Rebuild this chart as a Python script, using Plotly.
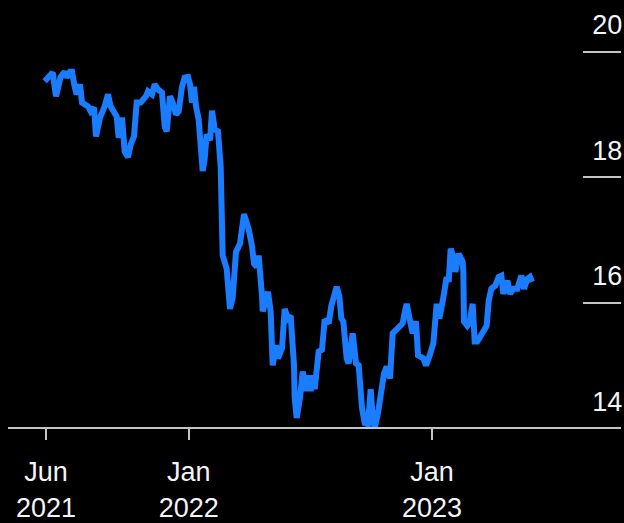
import plotly.graph_objects as go

dates = [
    "2021-05-30", "2021-06-04", "2021-06-11", "2021-06-16", "2021-06-20", "2021-06-23",
    "2021-06-29", "2021-07-02", "2021-07-07", "2021-07-10", "2021-07-14", "2021-07-17",
    "2021-07-22", "2021-07-25", "2021-07-29", "2021-08-03", "2021-08-07", "2021-08-12",
    "2021-08-15", "2021-08-21", "2021-08-28", "2021-09-02", "2021-09-06", "2021-09-11",
    "2021-09-15", "2021-09-18", "2021-09-23", "2021-09-27", "2021-10-02", "2021-10-06",
    "2021-10-11", "2021-10-15", "2021-10-21", "2021-10-29", "2021-11-01", "2021-11-07",
    "2021-11-11", "2021-11-16", "2021-11-22", "2021-11-26", "2021-11-29", "2021-12-04",
    "2021-12-08", "2021-12-13", "2021-12-17", "2021-12-22", "2021-12-26", "2021-12-31",
    "2022-01-03", "2022-01-06", "2022-01-09", "2022-01-12", "2022-01-16", "2022-01-22",
    "2022-01-25", "2022-01-28", "2022-02-02", "2022-02-05", "2022-02-09", "2022-02-14",
    "2022-02-18", "2022-02-21", "2022-02-26", "2022-02-27", "2022-03-04", "2022-03-08",
    "2022-03-13", "2022-03-19", "2022-03-25", "2022-03-29", "2022-04-01", "2022-04-06",
    "2022-04-09", "2022-04-13", "2022-04-16", "2022-04-21", "2022-04-22", "2022-04-27",
    "2022-04-30", "2022-05-04", "2022-05-07", "2022-05-12", "2022-05-15", "2022-05-21",
    "2022-05-25", "2022-05-30", "2022-06-03", "2022-06-08", "2022-06-09", "2022-06-12",
    "2022-06-17", "2022-06-21", "2022-06-26", "2022-06-30", "2022-07-03", "2022-07-06",
    "2022-07-09", "2022-07-15", "2022-07-20", "2022-07-24", "2022-07-30", "2022-08-03",
    "2022-08-11", "2022-08-15", "2022-08-18", "2022-08-21", "2022-08-26", "2022-08-29",
    "2022-09-04", "2022-09-09", "2022-09-13", "2022-09-18", "2022-09-22", "2022-09-27",
    "2022-10-01", "2022-10-04", "2022-10-07", "2022-10-12", "2022-10-18", "2022-10-21",
    "2022-10-25", "2022-10-30", "2022-11-03", "2022-11-11", "2022-11-18", "2022-11-21",
    "2022-11-24", "2022-11-29", "2022-12-03", "2022-12-08", "2022-12-11", "2022-12-19",
    "2022-12-23", "2022-12-28", "2023-01-03", "2023-01-08", "2023-01-12", "2023-01-17",
    "2023-01-20", "2023-01-23", "2023-01-26", "2023-01-29", "2023-02-02", "2023-02-05",
    "2023-02-10", "2023-02-16", "2023-02-17", "2023-02-18", "2023-02-23", "2023-02-26",
    "2023-03-03", "2023-03-06", "2023-03-10", "2023-03-15", "2023-03-19", "2023-03-24",
    "2023-03-27", "2023-03-31", "2023-04-06", "2023-04-11", "2023-04-15", "2023-04-18",
    "2023-04-24", "2023-04-28", "2023-05-03", "2023-05-09", "2023-05-15", "2023-05-19",
    "2023-05-24", "2023-05-28", "2023-05-31",
]

values = [
    19.53, 19.59, 19.67, 19.29, 19.51, 19.60,
    19.68, 19.59, 19.68, 19.68, 19.44, 19.32,
    19.48, 19.19, 19.16, 19.13, 19.05, 19.11,
    18.65, 18.95, 19.13, 19.32, 19.13, 19.03,
    18.97, 18.63, 18.95, 18.41, 18.32, 18.52,
    18.65, 19.19, 19.19, 19.29, 19.37, 19.32,
    19.48, 19.40, 19.35, 18.81, 18.73, 19.29,
    19.19, 19.00, 19.05, 19.44, 19.59, 19.60,
    19.48, 19.19, 19.44, 19.13, 18.92, 18.10,
    18.29, 18.68, 18.59, 19.06, 18.76, 18.73,
    18.17, 16.75, 16.59, 16.54, 15.90, 16.08,
    16.81, 16.94, 17.41, 17.29, 17.17, 16.90,
    16.62, 16.57, 16.75, 16.11, 15.86, 16.06,
    16.17, 15.86, 15.00, 15.32, 15.11, 15.27,
    15.90, 15.75, 15.79, 15.00, 14.48, 14.16,
    14.48, 14.90, 14.59, 14.84, 14.59, 14.84,
    14.62, 15.22, 15.25, 15.73, 15.67, 15.95,
    16.25, 16.10, 15.75, 15.70, 15.11, 15.03,
    15.51, 15.03, 15.00, 14.32, 14.08, 14.06,
    14.62, 14.19, 14.00, 14.24, 14.68, 14.87,
    14.98, 14.79, 15.51, 15.60, 15.67, 15.84,
    15.98, 15.71, 15.51, 15.70, 15.16, 15.11,
    15.00, 15.14, 15.35, 15.98, 15.75, 16.02,
    16.19, 16.41, 16.33, 16.86, 16.73, 16.49,
    16.78, 16.65, 16.49, 15.70, 15.63, 15.67,
    15.98, 15.38, 15.38, 15.46, 15.56, 15.63,
    16.03, 16.22, 16.27, 16.41, 16.43, 16.14,
    16.35, 16.14, 16.22, 16.22, 16.43, 16.22,
    16.38, 16.41, 16.33,
]

x_tick_vals = ["2021-06-01", "2022-01-01", "2023-01-01"]
x_tick_text = ["Jun<br>2021", "Jan<br>2022", "Jan<br>2023"]
y_tick_vals = [14, 16, 18, 20]
y_tick_text = ["14", "16", "18", "20"]

FONT = "Liberation Sans, Arial, Helvetica, sans-serif"
AXIS_COLOR = "#c4c4c4"
TEXT_COLOR = "#f4f4f4"

fig = go.Figure()
fig.add_trace(go.Scatter(
    x=dates, y=values, mode="lines",
    line=dict(color="#1a7cff", width=6, shape="linear"),
    hoverinfo="skip",
))

fig.update_layout(
    width=624, height=523,
    margin=dict(l=8, r=3, t=0, b=83, pad=0),
    paper_bgcolor="black", plot_bgcolor="black",
    showlegend=False,
    font=dict(family=FONT, size=26, color=TEXT_COLOR),
    xaxis=dict(
        type="date",
        range=["2021-04-05", "2023-10-11 12:00"],
        tickvals=x_tick_vals, ticktext=x_tick_text,
        ticks="outside", ticklen=11, tickwidth=2, tickcolor=AXIS_COLOR,
        showline=True, linecolor=AXIS_COLOR, linewidth=2,
        showgrid=False, zeroline=False,
        anchor="free", position=10 / 440,
        ticklabelstandoff=9,
        tickfont=dict(family=FONT, size=27, color=TEXT_COLOR),
    ),
    yaxis=dict(
        range=[14 - 10 / 63, 14 + 430 / 63],
        side="right",
        tickvals=y_tick_vals, ticktext=y_tick_text,
        ticks="inside", ticklen=38, tickwidth=2, tickcolor=AXIS_COLOR,
        ticklabelposition="inside",
        ticklabelshift=-27,
        ticklabelstandoff=-37,
        showline=False, showgrid=False, zeroline=False,
        tickfont=dict(family=FONT, size=27, color=TEXT_COLOR),
    ),
)

fig.write_html("out.html")
